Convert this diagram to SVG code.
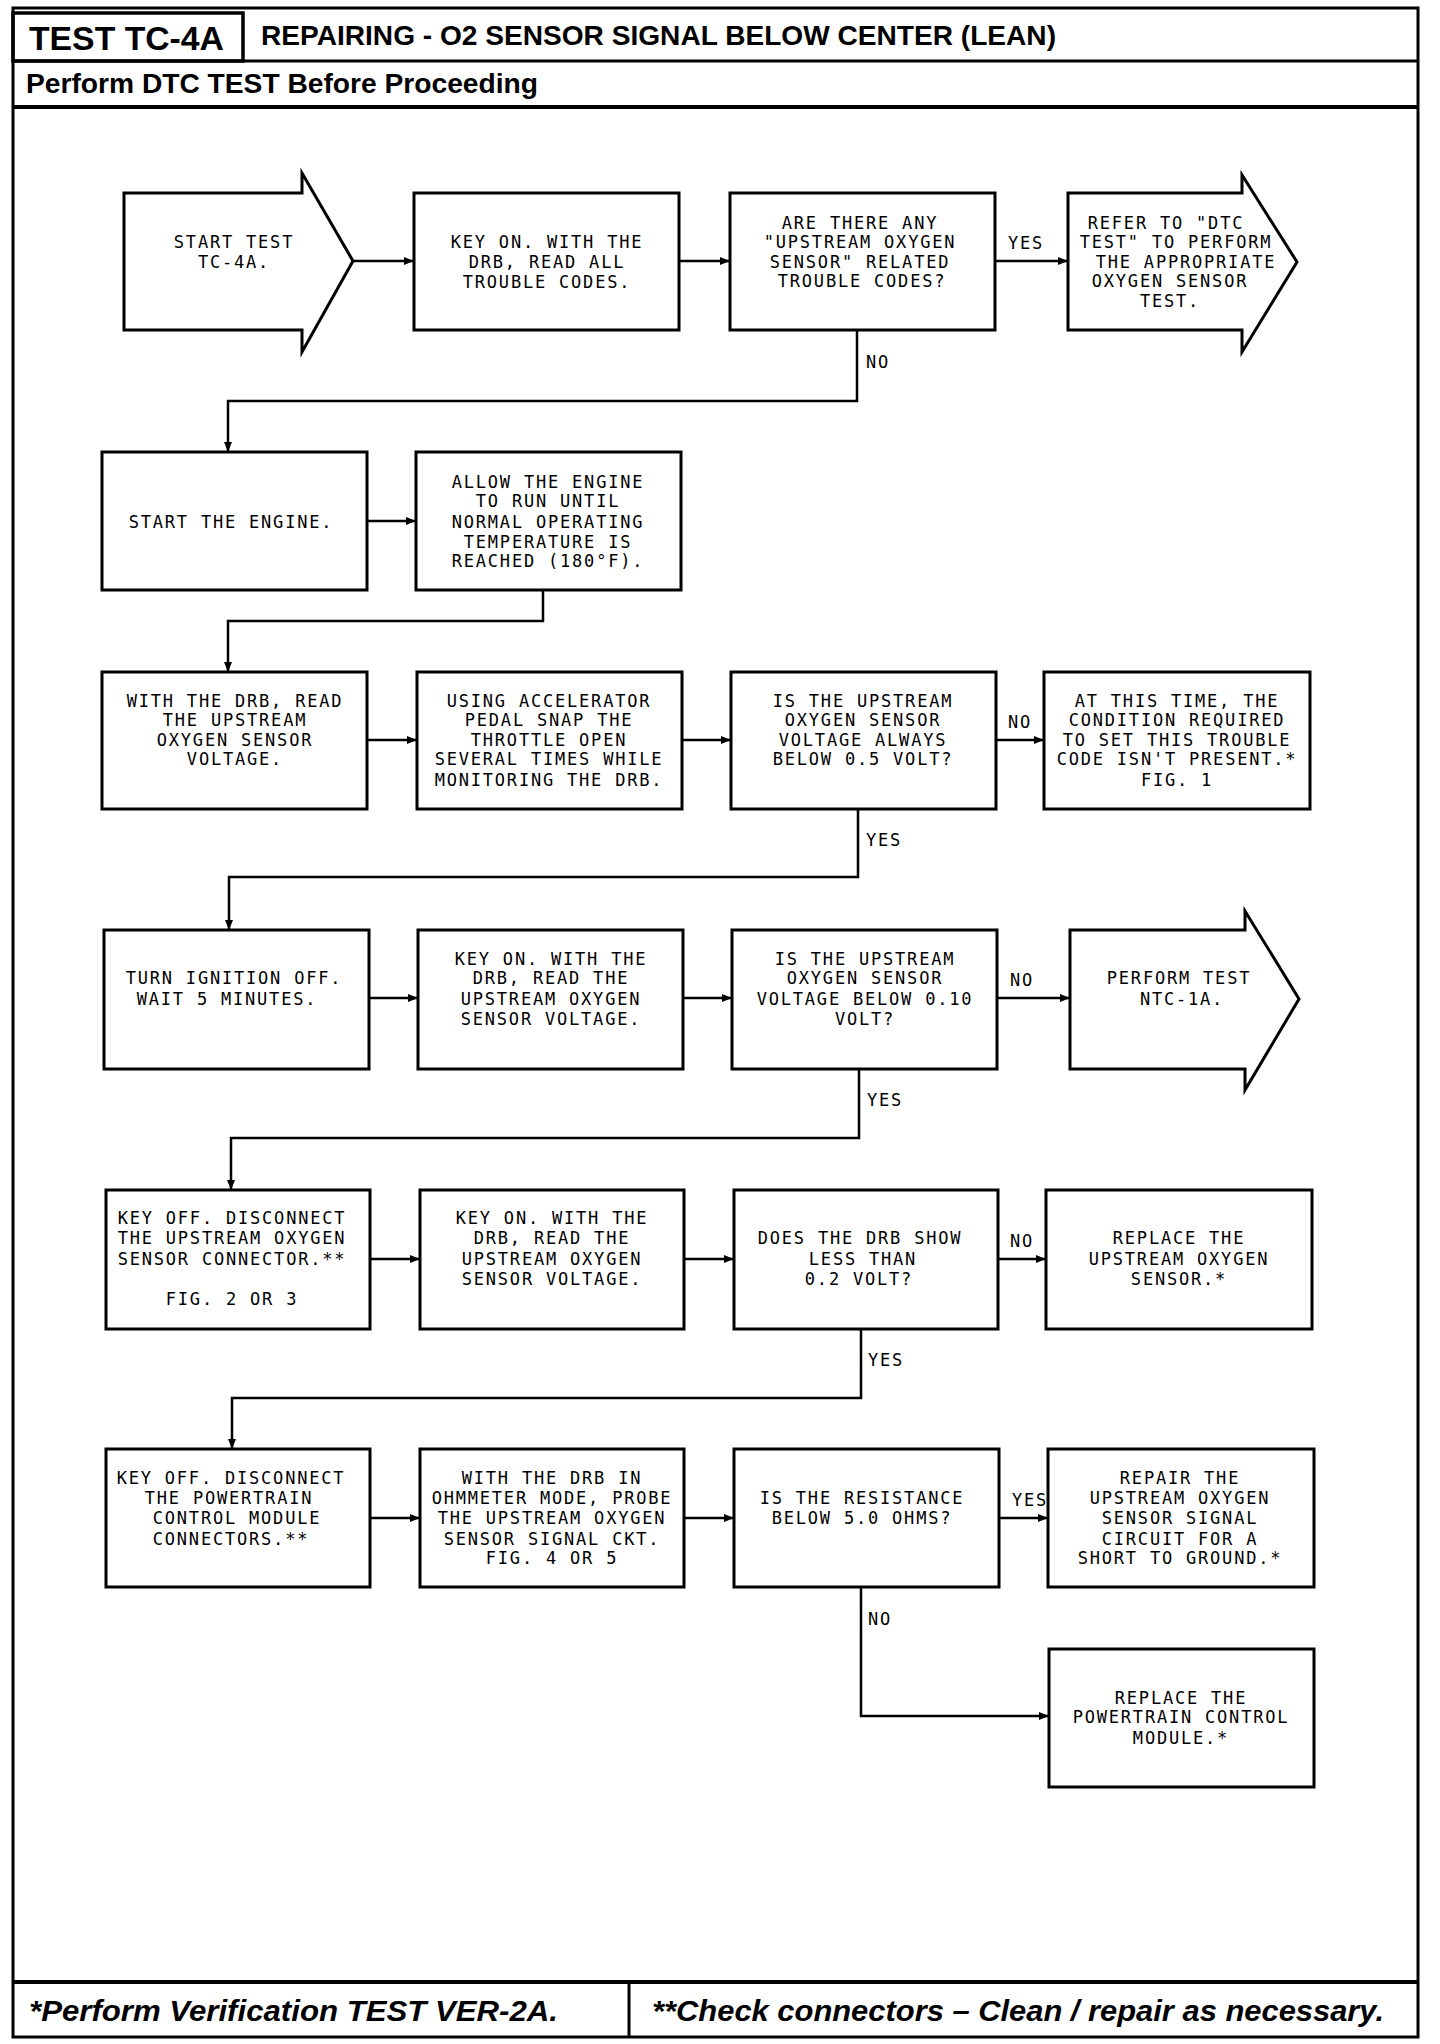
<svg xmlns="http://www.w3.org/2000/svg" width="1440" height="2044" viewBox="0 0 1440 2044">
<defs>
<style>
.frame{fill:none;stroke:#000;stroke-width:3}
.box{fill:#fff;stroke:#000;stroke-width:3}
.con{fill:none;stroke:#000;stroke-width:2.5}
.t{font-family:"DejaVu Sans Mono","Liberation Mono",monospace;font-size:17px;letter-spacing:1.8px;fill:#000;text-anchor:middle}
.lbl{font-family:"DejaVu Sans Mono","Liberation Mono",monospace;font-size:17px;letter-spacing:1.8px;fill:#000}
.hd{font-family:"Liberation Sans Narrow","Liberation Sans",Arial,sans-serif;font-weight:bold;fill:#000}
.ft{font-family:"Liberation Sans Narrow","Liberation Sans",Arial,sans-serif;font-weight:bold;font-style:italic;fill:#000}
</style>
<marker id="ah" markerUnits="userSpaceOnUse" markerWidth="10" markerHeight="8" refX="10" refY="4" orient="auto">
<path d="M0,0 L10,4 L0,8 Z" fill="#000"/>
</marker>
</defs>
<rect width="1440" height="2044" fill="#fff"/>
<g id="page">
<rect class="frame" x="13" y="8" width="1405" height="2029"/>
<rect class="frame" x="13" y="13" width="230" height="48" style="stroke-width:3.5"/>
<line class="frame" x1="13" y1="61" x2="1418" y2="61"/>
<line class="frame" x1="13" y1="107" x2="1418" y2="107" style="stroke-width:4"/>
<line class="frame" x1="13" y1="1982" x2="1418" y2="1982" style="stroke-width:4"/>
<line class="frame" x1="629" y1="1982" x2="629" y2="2037"/>
<text class="hd" x="29" y="50" font-size="34" textLength="195" lengthAdjust="spacingAndGlyphs">TEST TC-4A</text>
<text class="hd" x="261" y="45" font-size="28" textLength="795" lengthAdjust="spacingAndGlyphs">REPAIRING - O2 SENSOR SIGNAL BELOW CENTER (LEAN)</text>
<text class="hd" x="26" y="93" font-size="27" textLength="512" lengthAdjust="spacingAndGlyphs">Perform DTC TEST Before Proceeding</text>
<text class="ft" x="29" y="2021" font-size="29" textLength="529" lengthAdjust="spacingAndGlyphs">*Perform Verification TEST VER-2A.</text>
<text class="ft" x="652" y="2021" font-size="29" textLength="732" lengthAdjust="spacingAndGlyphs">**Check connectors – Clean / repair as necessary.</text>
</g>
<g id="connectors">
<path class="con" marker-end="url(#ah)" d="M353,261 H414"/>
<path class="con" marker-end="url(#ah)" d="M679,261 H730"/>
<path class="con" marker-end="url(#ah)" d="M995,261 H1068"/>
<path class="con" marker-end="url(#ah)" d="M857,330 V401 H228 V452"/>
<path class="con" marker-end="url(#ah)" d="M367,521 H416"/>
<path class="con" marker-end="url(#ah)" d="M543,590 V621 H228 V672"/>
<path class="con" marker-end="url(#ah)" d="M367,740 H417"/>
<path class="con" marker-end="url(#ah)" d="M682,740 H731"/>
<path class="con" marker-end="url(#ah)" d="M996,740 H1044"/>
<path class="con" marker-end="url(#ah)" d="M858,809 V877 H229 V930"/>
<path class="con" marker-end="url(#ah)" d="M369,998 H418"/>
<path class="con" marker-end="url(#ah)" d="M683,998 H732"/>
<path class="con" marker-end="url(#ah)" d="M997,998 H1070"/>
<path class="con" marker-end="url(#ah)" d="M859,1069 V1138 H231 V1190"/>
<path class="con" marker-end="url(#ah)" d="M370,1259 H420"/>
<path class="con" marker-end="url(#ah)" d="M684,1259 H734"/>
<path class="con" marker-end="url(#ah)" d="M998,1259 H1046"/>
<path class="con" marker-end="url(#ah)" d="M861,1329 V1398 H232 V1449"/>
<path class="con" marker-end="url(#ah)" d="M370,1518 H420"/>
<path class="con" marker-end="url(#ah)" d="M684,1518 H734"/>
<path class="con" marker-end="url(#ah)" d="M999,1518 H1048"/>
<path class="con" marker-end="url(#ah)" d="M861,1587 V1716 H1049"/>
<text class="lbl" x="1008" y="249">YES</text>
<text class="lbl" x="866" y="368">NO</text>
<text class="lbl" x="1008" y="728">NO</text>
<text class="lbl" x="866" y="846">YES</text>
<text class="lbl" x="1010" y="986">NO</text>
<text class="lbl" x="867" y="1106">YES</text>
<text class="lbl" x="1010" y="1247">NO</text>
<text class="lbl" x="868" y="1366">YES</text>
<text class="lbl" x="1012" y="1506">YES</text>
<text class="lbl" x="868" y="1625">NO</text>
</g>
<g id="n1"><polygon class="box" points="124,193 302,193 302,173 353,261 302,352 302,330 124,330"/>
<text class="t" x="234" y="248">START TEST</text><text class="t" x="234" y="268">TC-4A.</text></g>
<g id="n2"><rect class="box" x="414" y="193" width="265" height="137"/>
<text class="t" x="547" y="248">KEY ON. WITH THE</text><text class="t" x="547" y="268">DRB, READ ALL</text><text class="t" x="547" y="288">TROUBLE CODES.</text></g>
<g id="n3"><rect class="box" x="730" y="193" width="265" height="137"/>
<text class="t" x="860" y="229">ARE THERE ANY</text><text class="t" x="860" y="248">"UPSTREAM OXYGEN</text><text class="t" x="860" y="268">SENSOR" RELATED</text><text class="t" x="862" y="287">TROUBLE CODES?</text></g>
<g id="n4"><polygon class="box" points="1068,193 1242,193 1242,175 1297,262 1242,352 1242,330 1068,330"/>
<text class="t" x="1166" y="229">REFER TO "DTC</text><text class="t" x="1176" y="248">TEST" TO PERFORM</text><text class="t" x="1186" y="268">THE APPROPRIATE</text><text class="t" x="1170" y="287">OXYGEN SENSOR</text><text class="t" x="1170" y="307">TEST.</text></g>
<g id="n5"><rect class="box" x="102" y="452" width="265" height="138"/>
<text class="t" x="231" y="528">START THE ENGINE.</text></g>
<g id="n6"><rect class="box" x="416" y="452" width="265" height="138"/>
<text class="t" x="548" y="488">ALLOW THE ENGINE</text><text class="t" x="548" y="507">TO RUN UNTIL</text><text class="t" x="548" y="528">NORMAL OPERATING</text><text class="t" x="548" y="548">TEMPERATURE IS</text><text class="t" x="548" y="567">REACHED (180°F).</text></g>
<g id="n7"><rect class="box" x="102" y="672" width="265" height="137"/>
<text class="t" x="235" y="707">WITH THE DRB, READ</text><text class="t" x="235" y="726">THE UPSTREAM</text><text class="t" x="235" y="746">OXYGEN SENSOR</text><text class="t" x="235" y="765">VOLTAGE.</text></g>
<g id="n8"><rect class="box" x="417" y="672" width="265" height="137"/>
<text class="t" x="549" y="707">USING ACCELERATOR</text><text class="t" x="549" y="726">PEDAL SNAP THE</text><text class="t" x="549" y="746">THROTTLE OPEN</text><text class="t" x="549" y="765">SEVERAL TIMES WHILE</text><text class="t" x="549" y="786">MONITORING THE DRB.</text></g>
<g id="n9"><rect class="box" x="731" y="672" width="265" height="137"/>
<text class="t" x="863" y="707">IS THE UPSTREAM</text><text class="t" x="863" y="726">OXYGEN SENSOR</text><text class="t" x="863" y="746">VOLTAGE ALWAYS</text><text class="t" x="863" y="765">BELOW 0.5 VOLT?</text></g>
<g id="n10"><rect class="box" x="1044" y="672" width="266" height="137"/>
<text class="t" x="1177" y="707">AT THIS TIME, THE</text><text class="t" x="1177" y="726">CONDITION REQUIRED</text><text class="t" x="1177" y="746">TO SET THIS TROUBLE</text><text class="t" x="1177" y="765">CODE ISN'T PRESENT.*</text><text class="t" x="1177" y="786">FIG. 1</text></g>
<g id="n11"><rect class="box" x="104" y="930" width="265" height="139"/>
<text class="t" x="234" y="984">TURN IGNITION OFF.</text><text class="t" x="227" y="1005">WAIT 5 MINUTES.</text></g>
<g id="n12"><rect class="box" x="418" y="930" width="265" height="139"/>
<text class="t" x="551" y="965">KEY ON. WITH THE</text><text class="t" x="551" y="984">DRB, READ THE</text><text class="t" x="551" y="1005">UPSTREAM OXYGEN</text><text class="t" x="551" y="1025">SENSOR VOLTAGE.</text></g>
<g id="n13"><rect class="box" x="732" y="930" width="265" height="139"/>
<text class="t" x="865" y="965">IS THE UPSTREAM</text><text class="t" x="865" y="984">OXYGEN SENSOR</text><text class="t" x="865" y="1005">VOLTAGE BELOW 0.10</text><text class="t" x="865" y="1025">VOLT?</text></g>
<g id="n14"><polygon class="box" points="1070,930 1245,930 1245,911 1299,999 1245,1090 1245,1069 1070,1069"/>
<text class="t" x="1179" y="984">PERFORM TEST</text><text class="t" x="1182" y="1005">NTC-1A.</text></g>
<g id="n15"><rect class="box" x="106" y="1190" width="264" height="139"/>
<text class="t" x="232" y="1224">KEY OFF. DISCONNECT</text><text class="t" x="232" y="1244">THE UPSTREAM OXYGEN</text><text class="t" x="232" y="1265">SENSOR CONNECTOR.**</text><text class="t" x="232" y="1305">FIG. 2 OR 3</text></g>
<g id="n16"><rect class="box" x="420" y="1190" width="264" height="139"/>
<text class="t" x="552" y="1224">KEY ON. WITH THE</text><text class="t" x="552" y="1244">DRB, READ THE</text><text class="t" x="552" y="1265">UPSTREAM OXYGEN</text><text class="t" x="552" y="1285">SENSOR VOLTAGE.</text></g>
<g id="n17"><rect class="box" x="734" y="1190" width="264" height="139"/>
<text class="t" x="860" y="1244">DOES THE DRB SHOW</text><text class="t" x="863" y="1265">LESS THAN</text><text class="t" x="859" y="1285">0.2 VOLT?</text></g>
<g id="n18"><rect class="box" x="1046" y="1190" width="266" height="139"/>
<text class="t" x="1179" y="1244">REPLACE THE</text><text class="t" x="1179" y="1265">UPSTREAM OXYGEN</text><text class="t" x="1179" y="1285">SENSOR.*</text></g>
<g id="n19"><rect class="box" x="106" y="1449" width="264" height="138"/>
<text class="t" x="231" y="1484">KEY OFF. DISCONNECT</text><text class="t" x="229" y="1504">THE POWERTRAIN</text><text class="t" x="237" y="1524">CONTROL MODULE</text><text class="t" x="231" y="1545">CONNECTORS.**</text></g>
<g id="n20"><rect class="box" x="420" y="1449" width="264" height="138"/>
<text class="t" x="552" y="1484">WITH THE DRB IN</text><text class="t" x="552" y="1504">OHMMETER MODE, PROBE</text><text class="t" x="552" y="1524">THE UPSTREAM OXYGEN</text><text class="t" x="552" y="1545">SENSOR SIGNAL CKT.</text><text class="t" x="552" y="1564">FIG. 4 OR 5</text></g>
<g id="n21"><rect class="box" x="734" y="1449" width="265" height="138"/>
<text class="t" x="862" y="1504">IS THE RESISTANCE</text><text class="t" x="862" y="1524">BELOW 5.0 OHMS?</text></g>
<g id="n22"><rect class="box" x="1048" y="1449" width="266" height="138"/>
<text class="t" x="1180" y="1484">REPAIR THE</text><text class="t" x="1180" y="1504">UPSTREAM OXYGEN</text><text class="t" x="1180" y="1524">SENSOR SIGNAL</text><text class="t" x="1180" y="1545">CIRCUIT FOR A</text><text class="t" x="1180" y="1564">SHORT TO GROUND.*</text></g>
<g id="n23"><rect class="box" x="1049" y="1649" width="265" height="138"/>
<text class="t" x="1181" y="1704">REPLACE THE</text><text class="t" x="1181" y="1723">POWERTRAIN CONTROL</text><text class="t" x="1181" y="1744">MODULE.*</text></g>
</svg>
